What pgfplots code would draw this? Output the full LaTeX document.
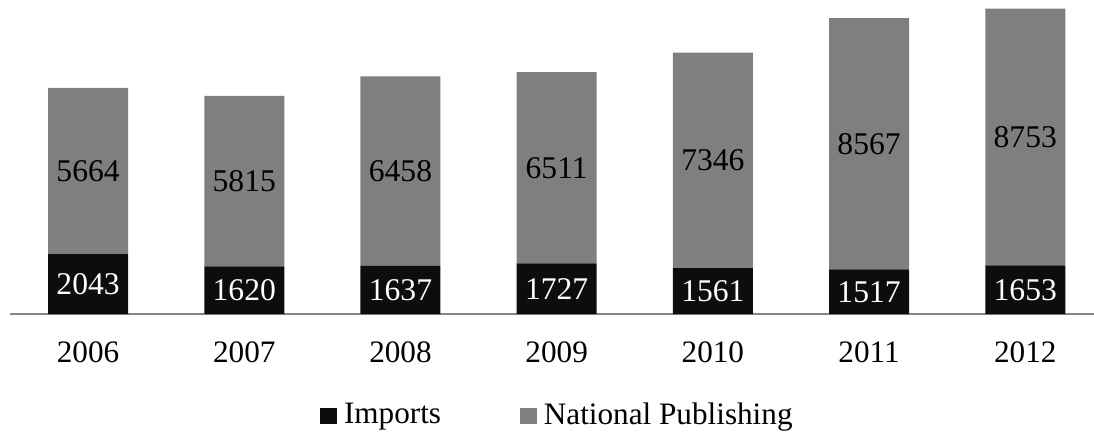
\documentclass[border=0pt]{standalone}
\usepackage{pgfplots}
\pgfplotsset{compat=1.18}
\usepackage{pgfplotstable}
\usepackage{fontspec}
\setmainfont{Liberation Serif}
\definecolor{impc}{RGB}{13,13,13}
\definecolor{natc}{RGB}{127,127,127}
\definecolor{axc}{RGB}{134,134,134}
\pgfplotstableread{
x year imp nat
0 2006 2043 5664
1 2007 1620 5815
2 2008 1637 6458
3 2009 1727 6511
4 2010 1561 7346
5 2011 1517 8567
6 2012 1653 8753
}\data
\pgfplotstablecreatecol[expr={\thisrow{imp}/2}]{impmid}{\data}
\pgfplotstablecreatecol[expr={\thisrow{imp}+\thisrow{nat}/2}]{natmid}{\data}
\pgfplotsset{common/.style={
  scale only axis, width=542pt, height=157pt,
  xmin=-0.5, xmax=6.44, ymin=0, ymax=10700}}
\begin{document}
\begin{tikzpicture}[font=\fontsize{15.6pt}{18pt}\selectfont]
\begin{axis}[common,
  ybar stacked, bar width=40pt,
  axis y line=none, axis x line=bottom,
  x axis line style={-, draw=axc, line width=0.8pt},
  xtick=data, xticklabels={2006,2007,2008,2009,2010,2011,2012},
  major tick length=0pt,
  xticklabel style={anchor=base, yshift=-24pt},
  /pgf/number format/assume math mode=true,
  legend style={at={(0.505,-0.322)}, anchor=center, legend columns=2,
    draw=none, fill=none, nodes={inner sep=1pt},
    /tikz/every even column/.append style={column sep=38.5pt}},
  legend image code/.code={\fill[#1] (0pt,-4.6pt) rectangle (8.4pt,3.8pt); \path (10.9pt,0pt);},
]
\addplot[fill=impc, draw=none] table[x=x, y=imp]{\data};
\addlegendentry{Imports}
\addplot[fill=natc, draw=none] table[x=x, y=nat]{\data};
\addlegendentry{National Publishing}
\end{axis}
\begin{axis}[common, hide axis]
\addplot[draw=none, mark=none, point meta=explicit symbolic,
  nodes near coords, nodes near coords style={anchor=center, text=white, font=\fontsize{15.8pt}{18pt}\selectfont}]
  table[x=x, y=impmid, meta=imp]{\data};
\addplot[draw=none, mark=none, point meta=explicit symbolic,
  nodes near coords, nodes near coords style={anchor=center, text=black, font=\fontsize{15.8pt}{18pt}\selectfont}]
  table[x=x, y=natmid, meta=nat]{\data};
\end{axis}
\pgfresetboundingbox
\path[use as bounding box] (current axis.south west) ++(-5pt,-59.5pt) rectangle (current axis.north east);
\end{tikzpicture}
\end{document}
